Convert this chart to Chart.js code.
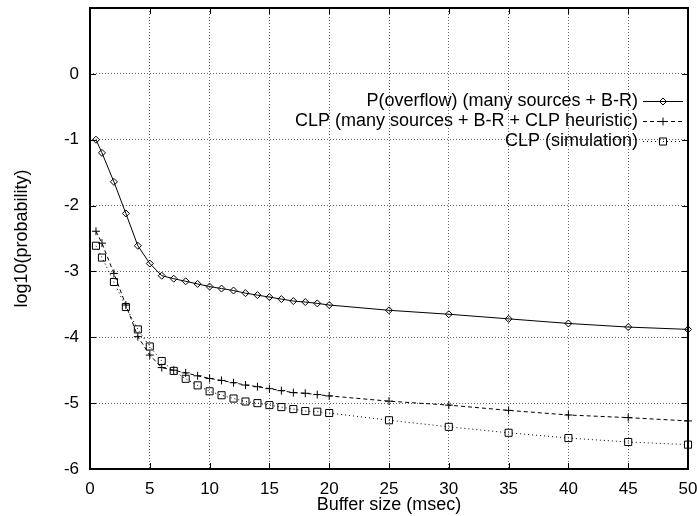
<!DOCTYPE html>
<html>
<head>
<meta charset="utf-8">
<script src="https://cdn.jsdelivr.net/npm/chart.js@4/dist/chart.umd.min.js"></script>
<style>
  html, body { margin: 0; padding: 0; background: #fff; }
  #wrap { width: 697px; height: 516px; }
</style>
</head>
<body>
<div id="wrap"><canvas id="c" width="697" height="516"></canvas></div>
<script>
// Buffer sizes (msec) at which each curve was evaluated
const bufferMs = [0.5, 1, 2, 3, 4, 5, 6, 7, 8, 9, 10, 11, 12, 13, 14, 15, 16, 17, 18, 19, 20, 25, 30, 35, 40, 45, 50];

// log10 of the overflow probability, many-sources asymptotics + Bahadur-Rao
const pOverflow = [-1.0, -1.2, -1.64, -2.12, -2.61, -2.88, -3.065, -3.11, -3.15, -3.19, -3.23, -3.26, -3.29, -3.33,
  -3.36, -3.39, -3.42, -3.45, -3.465, -3.485, -3.51, -3.59, -3.65, -3.72, -3.79, -3.845, -3.88];

// log10 of the cell loss probability, heuristic estimate
const clpHeuristic = [-2.39, -2.57, -3.03, -3.51, -3.99, -4.27, -4.46, -4.50, -4.54, -4.585, -4.625, -4.655, -4.69, -4.725,
  -4.75, -4.78, -4.81, -4.84, -4.85, -4.87, -4.89, -4.97, -5.03, -5.11, -5.18, -5.22, -5.27];

// log10 of the cell loss probability, simulated
const clpSimulation = [-2.61, -2.79, -3.16, -3.54, -3.88, -4.14, -4.36, -4.51, -4.63, -4.73, -4.82, -4.88, -4.93, -4.975,
  -5.00, -5.03, -5.06, -5.09, -5.12, -5.13, -5.15, -5.26, -5.36, -5.45, -5.53, -5.59, -5.63];

const seriesLabels = [
  'P(overflow) (many sources + B-R)',
  'CLP (many sources + B-R + CLP heuristic)',
  'CLP (simulation)'
];

const xTicks = [0, 5, 10, 15, 20, 25, 30, 35, 40, 45, 50];
const yTicks = [-6, -5, -4, -3, -2, -1, 0, 1];

const FONT = "'Liberation Sans', Arial, Helvetica, sans-serif";

function pts(ys) { return bufferMs.map((x, i) => ({ x: x, y: ys[i] })); }

// Frame, mirrored inward tick marks and the key in the upper right corner
const framePlugin = {
  id: 'frame',
  afterDraw(chart) {
    const ctx = chart.ctx;
    const a = chart.chartArea;
    const xs = chart.scales.x, ys = chart.scales.y;
    ctx.save();
    ctx.strokeStyle = '#000';
    ctx.lineWidth = 1;
    ctx.setLineDash([]);
    ctx.beginPath();
    xTicks.forEach(v => {
      const px = Math.round(xs.getPixelForValue(v)) + 0.5;
      ctx.moveTo(px, a.bottom); ctx.lineTo(px, a.bottom - 6);
      ctx.moveTo(px, a.top); ctx.lineTo(px, a.top + 6);
    });
    yTicks.forEach(v => {
      const py = Math.round(ys.getPixelForValue(v)) + 0.5;
      ctx.moveTo(a.left, py); ctx.lineTo(a.left + 6, py);
      ctx.moveTo(a.right, py); ctx.lineTo(a.right - 6, py);
    });
    ctx.stroke();
    ctx.lineWidth = 2;
    ctx.strokeRect(a.left, a.top, a.right - a.left, a.bottom - a.top);

    // key
    const textRight = a.right - 50;
    const lineL = a.right - 45, lineR = a.right - 5;
    ctx.font = '18px ' + FONT;
    ctx.textAlign = 'right';
    ctx.textBaseline = 'middle';
    chart.data.datasets.forEach((ds, i) => {
      const y = a.top + 93 + i * 20;
      ctx.fillStyle = '#000';
      ctx.fillText(ds.label, textRight, y);
      ctx.lineWidth = 1;
      ctx.strokeStyle = ds.borderColor;
      ctx.setLineDash(ds.borderDash || []);
      ctx.beginPath();
      ctx.moveTo(lineL, y + 0.5); ctx.lineTo(lineR, y + 0.5);
      ctx.stroke();
      ctx.setLineDash([]);
      ctx.fillStyle = 'rgba(0,0,0,0)';
      ctx.strokeStyle = '#000';
      Chart.helpers.drawPoint(ctx, {
        pointStyle: ds.pointStyle, radius: ds.pointRadius, borderWidth: 1
      }, (lineL + lineR) / 2, y + 0.5);
    });
    ctx.restore();
  }
};

const common = {
  borderColor: '#000',
  pointBorderColor: '#000',
  pointBackgroundColor: 'rgba(0,0,0,0)',
  borderWidth: 1,
  pointBorderWidth: 1,
  tension: 0,
  fill: false,
  clip: false
};

new Chart(document.getElementById('c'), {
  type: 'line',
  data: {
    datasets: [
      Object.assign({}, common, {
        label: seriesLabels[0], data: pts(pOverflow),
        pointStyle: 'rectRot', pointRadius: 3.5
      }),
      Object.assign({}, common, {
        label: seriesLabels[1], data: pts(clpHeuristic),
        borderDash: [4, 3], pointStyle: 'cross', pointRadius: 4
      }),
      Object.assign({}, common, {
        label: seriesLabels[2], data: pts(clpSimulation),
        borderDash: [1, 3], pointStyle: 'rect', pointRadius: 5
      })
    ]
  },
  options: {
    responsive: false,
    devicePixelRatio: 1,
    animation: false,
    layout: { padding: { left: 0, right: 9, top: 8, bottom: 0 } },
    plugins: { legend: { display: false }, tooltip: { enabled: false } },
    scales: {
      x: {
        type: 'linear', min: 0, max: 50,
        afterBuildTicks(s) { s.ticks = xTicks.map(v => ({ value: v })); },
        afterFit(s) { s.height = 47; s.paddingLeft = 0; s.paddingRight = 0; },
        grid: { color: 'rgba(0,0,0,0.6)', lineWidth: 1, drawTicks: false },
        border: { display: false, dash: [1, 2] },
        ticks: { color: '#000', font: { family: FONT, size: 17 }, padding: 10, maxRotation: 0 },
        title: { display: true, text: 'Buffer size (msec)', color: '#000', font: { family: FONT, size: 18 }, padding: { top: 0, bottom: 0 } }
      },
      y: {
        type: 'linear', min: -6, max: 1,
        afterBuildTicks(s) { s.ticks = yTicks.map(v => ({ value: v })); },
        afterFit(s) { s.width = 90; s.paddingTop = 0; s.paddingBottom = 0; },
        grid: { color: 'rgba(0,0,0,0.6)', lineWidth: 1, drawTicks: false },
        border: { display: false, dash: [1, 2] },
        ticks: {
          color: '#000', font: { family: FONT, size: 17 }, padding: 11,
          callback: v => (v === 1 ? '' : String(v))
        },
        title: { display: true, text: 'log10(probability)', color: '#000', font: { family: FONT, size: 18 }, padding: { top: 11, bottom: 0 } }
      }
    }
  },
  plugins: [framePlugin]
});
</script>
</body>
</html>
